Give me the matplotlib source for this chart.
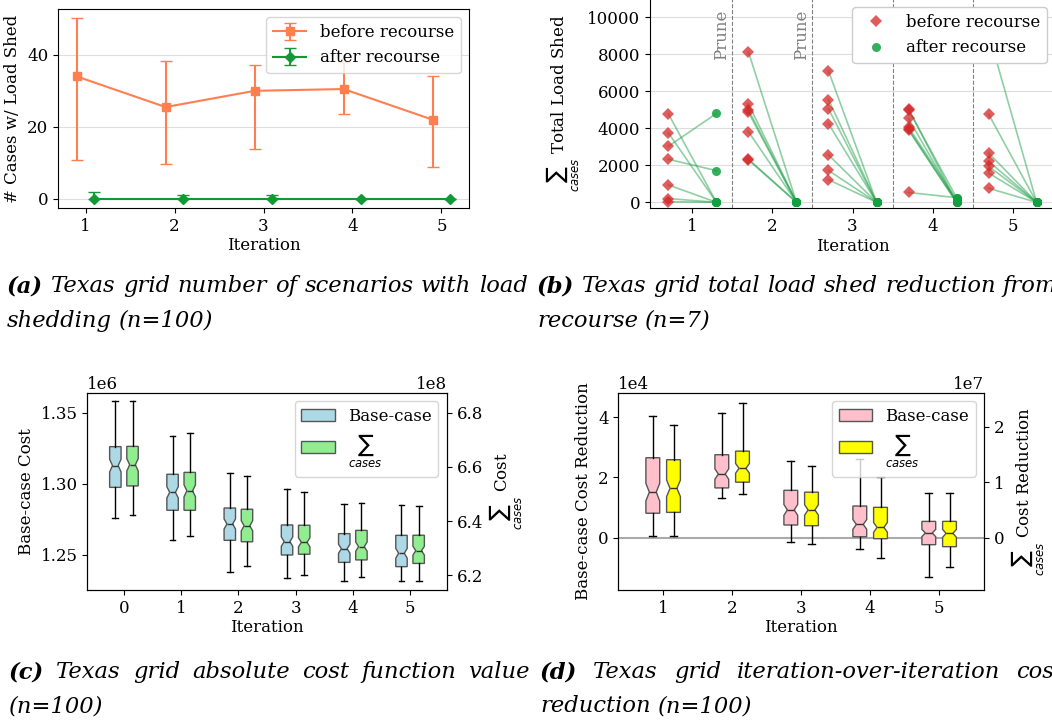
import numpy as np
import matplotlib
matplotlib.use('Agg')
import matplotlib.pyplot as plt
from matplotlib.patches import Patch

plt.rcParams['font.family'] = 'DejaVu Serif'
plt.rcParams['font.size'] = 12

W, H = 1052, 720

#%% data
# (a) number of cases with load shed
iters = [1, 2, 3, 4, 5]
before_mid = [34.0, 25.5, 30.0, 30.5, 22.0]
before_lo = [10.8, 9.8, 13.8, 23.7, 8.8]
before_hi = [50.2, 38.3, 37.2, 38.1, 34.0]
after_mid = [0, 0, 0, 0, 0]
after_lo = [0, 0, 0, 0, 0]
after_hi = [2.0, 1.0, 1.0, 0.0, 0.0]

# (b) total load shed, 7 cases per iteration
shed_before = [
    [4775, 3748, 3027, 2324, 937, 200, 30],
    [8128, 5315, 5000, 4860, 3820, 2330, 2290],
    [7100, 5550, 5050, 4250, 2560, 1720, 1220],
    [5050, 5010, 4530, 4060, 3950, 3900, 530],
    [9150, 4768, 2665, 2216, 1946, 1584, 757],
]
shed_after = [
    [0, 0, 4800, 1712, 0, 0, 0],
    [0, 0, 0, 0, 0, 0, 0],
    [0, 0, 0, 0, 0, 0, 0],
    [0, 250, 0, 120, 0, 0, 250],
    [0, 0, 0, 0, 0, 0, 0],
]

# (c) absolute cost, base-case in 1e6, summed over cases in 1e8
cost_iters = [0, 1, 2, 3, 4, 5]
base_whislo = [1.276, 1.2605, 1.2378, 1.2341, 1.2320, 1.2315]
base_q1 = [1.2975, 1.2814, 1.2603, 1.2500, 1.2448, 1.2418]
base_med = [1.3128, 1.2940, 1.2718, 1.2594, 1.2544, 1.2512]
base_q3 = [1.3261, 1.3067, 1.2830, 1.2711, 1.2650, 1.2638]
base_whishi = [1.358, 1.3338, 1.3076, 1.2961, 1.2856, 1.2851]
sum_whislo = [6.424, 6.346, 6.236, 6.203, 6.193, 6.178]
sum_q1 = [6.530, 6.440, 6.324, 6.278, 6.257, 6.244]
sum_med = [6.608, 6.512, 6.383, 6.322, 6.306, 6.291]
sum_q3 = [6.676, 6.580, 6.444, 6.385, 6.366, 6.348]
sum_whishi = [6.842, 6.724, 6.566, 6.506, 6.466, 6.456]

# (d) cost reduction, base-case in 1e4, summed in 1e7
red_iters = [1, 2, 3, 4, 5]
rbase_whislo = [0.055, 1.33, -0.14, -0.387, -1.315]
rbase_q1 = [0.81, 1.65, 0.42, 0.03, -0.232]
rbase_med = [1.51, 2.11, 0.92, 0.44, 0.155]
rbase_q3 = [2.65, 2.75, 1.57, 1.05, 0.54]
rbase_whishi = [4.04, 4.12, 2.55, 2.60, 1.49]
rsum_whislo = [0.03, 0.78, -0.114, -0.36, -0.52]
rsum_q1 = [0.456, 1.00, 0.216, -0.018, -0.162]
rsum_med = [0.889, 1.25, 0.50, 0.186, 0.078]
rsum_q3 = [1.405, 1.56, 0.82, 0.547, 0.294]
rsum_whishi = [2.03, 2.43, 1.29, 1.087, 0.80]
n_cases = 100

fig = plt.figure(figsize=(W / 100, H / 100), dpi=100)


def add_ax(l, t, r, b):
    return fig.add_axes([l / W, 1 - b / H, (r - l) / W, (b - t) / H])


def stats(lo, q1, med, q3, hi, scale):
    out = []
    for a, b, m, c, d in zip(lo, q1, med, q3, hi):
        ci = 1.57 * (c - b) / np.sqrt(n_cases)
        out.append(dict(whislo=a * scale, q1=b * scale, med=m * scale, q3=c * scale,
                        whishi=d * scale, cilo=(m - ci) * scale, cihi=(m + ci) * scale,
                        fliers=[]))
    return out


def boxes(ax, st, pos, color):
    ax.bxp(st, positions=pos, widths=0.2, patch_artist=True, shownotches=True,
           showfliers=False, manage_ticks=False,
           boxprops=dict(facecolor=color, edgecolor='#555555', linewidth=1),
           medianprops=dict(color='#333333', linewidth=1),
           whiskerprops=dict(color='black', linewidth=1),
           capprops=dict(color='black', linewidth=1))


#%% (a)
ax = add_ax(58, 9, 469, 208)
x = np.array(iters)
bm, bl, bh = np.array(before_mid), np.array(before_lo), np.array(before_hi)
am, al, ah = np.array(after_mid), np.array(after_lo), np.array(after_hi)
ax.errorbar(x - 0.1, bm, yerr=[bm - bl, bh - bm], color='coral', marker='s', ms=5.5,
            capsize=4, lw=1.5, label='before recourse')
ax.errorbar(x + 0.1, am, yerr=[am - al, ah - am], color='#109a35', marker='D', ms=5.5,
            capsize=4, lw=1.5, label='after recourse')
ax.set_xticks(iters)
ax.set_yticks([0, 20, 40])
ax.yaxis.grid(True, color='#dddddd', lw=0.8)
ax.set_axisbelow(True)
ax.set_xlabel('Iteration', labelpad=2)
ax.set_ylabel('# Cases w/ Load Shed')
ax.legend(loc='upper right')

#%% (b)
ax = add_ax(650, -1, 1055, 208.3)
xb = np.repeat(iters, 7) - 0.3
xa = np.repeat(iters, 7) + 0.3
yb = np.concatenate(shed_before)
ya = np.concatenate(shed_after)
ax.plot(np.vstack([xb, xa]), np.vstack([yb, ya]), color='#22a04a', alpha=0.5, lw=1.2)
ax.plot(xb, yb, 'D', color='tab:red', alpha=0.75, ms=6, mew=0, label='before recourse')
ax.plot(xa, ya, 'o', color='#12a040', alpha=0.85, ms=6.5, mew=0, label='after recourse')
for xv in [1.5, 2.5, 3.5, 4.5]:
    ax.axvline(xv, color='gray', ls='--', lw=0.8)
for xv in [1.5, 2.5]:
    ax.text(xv - 0.03, 7700, 'Prune', rotation=90, color='gray', ha='right', va='bottom')
ax.set_xlim(0.47, 5.53)
ax.set_ylim(-325, 10990)
ax.set_xticks(iters)
ax.set_yticks([0, 2000, 4000, 6000, 8000, 10000])
ax.yaxis.grid(True, color='#dddddd', lw=0.8)
ax.set_axisbelow(True)
ax.spines['top'].set_visible(False)
ax.set_xlabel('Iteration', labelpad=2)
ax.set_ylabel(r'$\sum_{cases}$ Total Load Shed')
ax.legend(loc='upper right', framealpha=1)

#%% (c)
ax = add_ax(87.3, 392.7, 446.7, 590)
ax2 = ax.twinx()
xc = np.array(cost_iters)
boxes(ax, stats(base_whislo, base_q1, base_med, base_q3, base_whishi, 1e6), xc - 0.15, 'lightblue')
boxes(ax2, stats(sum_whislo, sum_q1, sum_med, sum_q3, sum_whishi, 1e8), xc + 0.15, 'lightgreen')
ax.set_xlim(-0.64, 5.64)
ax.set_ylim(1.2254e6, 1.364e6)
ax2.set_ylim(6.146e8, 6.874e8)
ax.set_yticks([1.25e6, 1.30e6, 1.35e6])
ax2.set_yticks([6.2e8, 6.4e8, 6.6e8, 6.8e8])
ax.set_xticks(cost_iters)
for a in (ax, ax2):
    a.ticklabel_format(axis='y', style='sci', scilimits=(0, 0))
ax.set_xlabel('Iteration', labelpad=2)
ax.set_ylabel('Base-case Cost')
ax2.set_ylabel(r'$\sum_{cases}$ Cost')
ax2.legend(handles=[Patch(facecolor='lightblue', edgecolor='#555555'),
                    Patch(facecolor='lightgreen', edgecolor='#555555')],
           labels=['Base-case', r'$\sum_{cases}$'], loc='upper right')

#%% (d)
ax = add_ax(618.3, 392.7, 984, 590)
ax2 = ax.twinx()
xd = np.array(red_iters)
ax.axhline(0, color='#aaaaaa', lw=1.5, zorder=0)
boxes(ax, stats(rbase_whislo, rbase_q1, rbase_med, rbase_q3, rbase_whishi, 1e4), xd - 0.15, 'pink')
boxes(ax2, stats(rsum_whislo, rsum_q1, rsum_med, rsum_q3, rsum_whishi, 1e7), xd + 0.15, 'yellow')
ax.set_xlim(0.35, 5.65)
ax.set_ylim(-1.735e4, 4.807e4)
ax2.set_ylim(-0.943e7, 2.613e7)
ax.set_yticks([0, 2e4, 4e4])
ax2.set_yticks([0, 1e7, 2e7])
ax.set_xticks(red_iters)
for a in (ax, ax2):
    a.ticklabel_format(axis='y', style='sci', scilimits=(0, 0))
ax.set_xlabel('Iteration', labelpad=2)
ax.set_ylabel('Base-case Cost Reduction')
ax2.set_ylabel(r'$\sum_{cases}$ Cost Reduction')
ax2.legend(handles=[Patch(facecolor='pink', edgecolor='#555555'),
                    Patch(facecolor='yellow', edgecolor='#555555')],
           labels=['Base-case', r'$\sum_{cases}$'], loc='upper right')

#%% captions
CAP = 16.3
rend = fig.canvas.get_renderer()


def caption(x0, y, text, x1=None, bold_first=True):
    words = text.split()
    ts = []
    for i, w in enumerate(words):
        ts.append(fig.text(0, 1 - y / H, w, fontsize=CAP, style='italic',
                           weight='bold' if (bold_first and i == 0) else 'normal',
                           va='baseline'))
    widths = [t.get_window_extent(rend).width for t in ts]
    gap = 0.318 * CAP * 100 / 72
    if x1 is not None and len(words) > 1:
        gap = max(gap * 0.6, (x1 - x0 - sum(widths)) / (len(words) - 1))
    xx = x0
    for t, w in zip(ts, widths):
        t.set_x(xx / W)
        xx += w + gap


caption(7, 292, '(a) Texas grid number of scenarios with load', x1=528)
caption(7, 327, 'shedding (n=100)', bold_first=False)
caption(537, 292, '(b) Texas grid total load shed reduction from')
caption(537, 327, 'recourse (n=7)', bold_first=False)
caption(9, 678, '(c) Texas grid absolute cost function value', x1=530)
caption(9, 712, '(n=100)', bold_first=False)
caption(540, 678, '(d) Texas grid iteration-over-iteration cost', x1=1063)
caption(540, 712, 'reduction (n=100)', bold_first=False)

fig.savefig('out.png', dpi=100)
